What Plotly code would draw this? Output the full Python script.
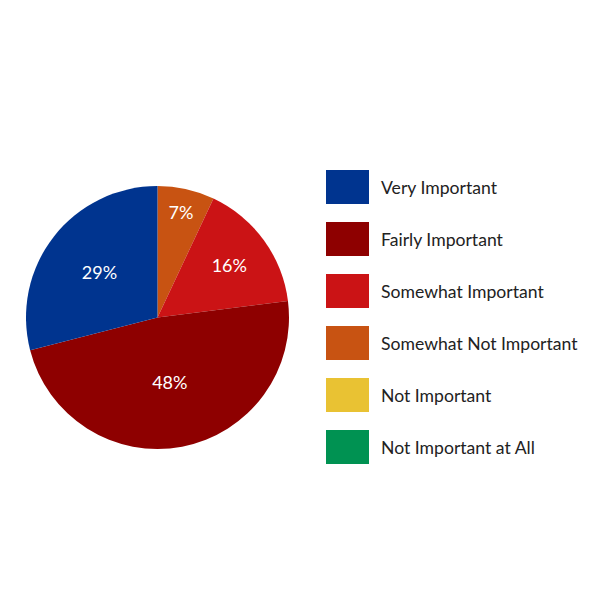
import plotly.graph_objects as go

# Survey answers, legend order
labels = ["Very Important", "Fairly Important", "Somewhat Important",
          "Somewhat Not Important", "Not Important", "Not Important at All"]
values = [29, 48, 16, 7, 0, 0]
colors = ["#00348f", "#8e0000", "#cb1315", "#c85312", "#e9c233", "#009252"]

W = H = 600
OFF = 8  # page body margin
FONT = "Lato, Noto Sans, sans-serif"


def px_x(x):
    return (x - OFF) / W


def px_y(y):
    return 1 - (y - OFF) / H


fig = go.Figure()
# slices run clockwise from 12 o'clock in reverse legend order
fig.add_trace(go.Pie(
    labels=labels[::-1],
    values=values[::-1],
    sort=False,
    direction="clockwise",
    marker=dict(colors=colors[::-1], line=dict(width=0)),
    texttemplate="%{percent:.0%}",
    textposition="inside",
    insidetextorientation="horizontal",
    textfont=dict(color="white", size=18, family=FONT),
    showlegend=False,
    domain=dict(x=[px_x(26), px_x(289)], y=[px_y(449), px_y(186)]),
))

# custom legend with big square swatches
shapes = []
annotations = []
for i, (lab, col) in enumerate(zip(labels, colors)):
    yc = 187 + i * 52
    shapes.append(dict(type="rect", xref="paper", yref="paper",
                       x0=px_x(326), x1=px_x(369),
                       y0=px_y(yc + 17), y1=px_y(yc - 17),
                       fillcolor=col, line=dict(width=0)))
    annotations.append(dict(text=lab, xref="paper", yref="paper",
                            x=px_x(379), y=px_y(yc), xanchor="left", yanchor="middle",
                            showarrow=False, font=dict(size=17.6, color="#222222", family=FONT)))

fig.update_layout(
    width=W, height=H,
    margin=dict(l=0, r=0, t=0, b=0),
    paper_bgcolor="white",
    plot_bgcolor="white",
    shapes=shapes,
    annotations=annotations,
)

fig.write_html("out.html")
